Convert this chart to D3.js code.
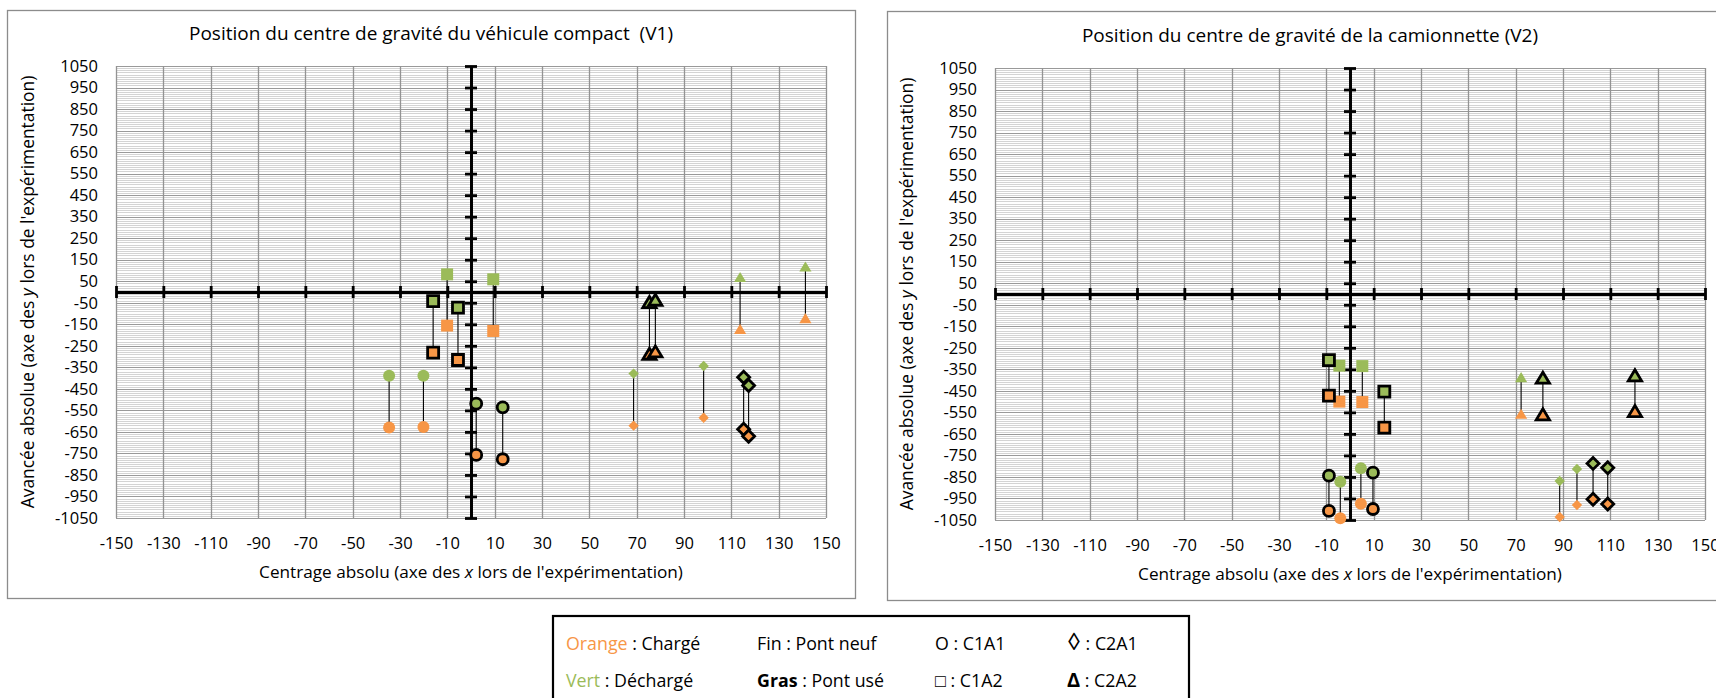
<!DOCTYPE html>
<html>
<head>
<meta charset="utf-8">
<script src="https://cdnjs.cloudflare.com/ajax/libs/d3/7.8.5/d3.min.js"></script>
<style>
  body { margin: 0; background: #fff; }
  svg { display: block; font-family: "Open Sans", sans-serif; }
</style>
</head>
<body>
<div id="chart"></div>
<script>
// ticks
var xTicks = [-150, -130, -110, -90, -70, -50, -30, -10, 10, 30, 50, 70, 90, 110, 130, 150];
var yTicks = [1050, 950, 850, 750, 650, 550, 450, 350, 250, 150, 50, -50, -150, -250, -350, -450, -550, -650, -750, -850, -950, -1050];

// each point: [x, y déchargé (vert), y chargé (orange)]
// V1 : véhicule compact
var v1C1A1Fin  = [[-34.6, -389, -630], [-20.1, -389, -627]];
var v1C1A1Gras = [[2.2, -519, -757], [13.4, -536, -777]];
var v1C1A2Fin  = [[-10.1, 82, -156], [9.4, 59, -181]];
var v1C1A2Gras = [[-16, -42, -282], [-5.5, -73, -316]];
var v1C2A1Fin  = [[68.7, -379, -621], [98.3, -344, -584]];
var v1C2A1Gras = [[115.2, -396, -638], [117.3, -434, -670]];
var v1C2A2Fin  = [[113.7, 64, -177], [141.3, 113, -127]];
var v1C2A2Gras = [[75.4, -53, -293], [77.9, -42, -282]];

// V2 : camionnette
var v2C1A1Fin  = [[-4.1, -872, -1042], [4.6, -810, -974]];
var v2C1A1Gras = [[-8.9, -844, -1008], [9.7, -830, -999]];
var v2C1A2Fin  = [[-4.5, -333, -500], [5.2, -335, -502]];
var v2C1A2Gras = [[-8.9, -307, -472], [14.5, -454, -621]];
var v2C2A1Fin  = [[88.6, -869, -1036], [95.9, -813, -980]];
var v2C2A1Gras = [[102.7, -787, -954], [108.9, -807, -976]];
var v2C2A2Fin  = [[72.3, -392, -562]];
var v2C2A2Gras = [[81.5, -395, -565], [120.4, -384, -550]];

var ORANGE = '#F79646';
var GREEN = '#9BBB59';

var svg = d3.select('#chart').append('svg')
    .attr('width', 1716)
    .attr('height', 698);

svg.append('rect').attr('width', 1716).attr('height', 698).attr('fill', '#fff');

function shapePath(shape, r) {
    var p = d3.path();
    if (shape === 'circle') {
        p.arc(0, 0, r, 0, 2 * Math.PI);
    } else if (shape === 'square') {
        p.rect(-r, -r, 2 * r, 2 * r);
    } else if (shape === 'diamond') {
        p.moveTo(0, -r); p.lineTo(r, 0); p.lineTo(0, r); p.lineTo(-r, 0); p.closePath();
    } else {
        var h = r * 1.75;
        p.moveTo(0, -h * 0.62); p.lineTo(r * 1.05, h * 0.38); p.lineTo(-r * 1.05, h * 0.38); p.closePath();
    }
    return p.toString();
}

var lightSize = { circle: 6, square: 6, diamond: 5.2, triangle: 5.8 };
var boldSize = { circle: 5.5, square: 5.5, diamond: 6, triangle: 6.3 };

function makePanel(cfg) {
    svg.append('rect')
        .attr('x', cfg.frame[0] + 0.5).attr('y', cfg.frame[1] + 0.5)
        .attr('width', cfg.frame[2]).attr('height', cfg.frame[3])
        .attr('fill', '#fff').attr('stroke', '#8c8c8c').attr('stroke-width', 1.3);

    var g = svg.append('g').attr('transform', 'translate(' + cfg.left + ',' + cfg.top + ')');
    var width = 710, height = 452;

    var x = d3.scaleLinear().domain([-150, 150]).range([0, width]);
    var y = d3.scaleLinear().domain([-1050, 1050]).range([height, 0]);

    // minor horizontal grid
    g.append('g').selectAll('line')
        .data(d3.range(-1050, 1051, 10).filter(function(v) { return (v + 1050) % 100 !== 0; }))
        .enter().append('line')
        .attr('x1', 0).attr('x2', width)
        .attr('y1', function(d) { return Math.round(y(d)) + 0.5; })
        .attr('y2', function(d) { return Math.round(y(d)) + 0.5; })
        .attr('stroke', '#d4d4d4').attr('stroke-width', 1);

    // major grid
    g.append('g').selectAll('line')
        .data(yTicks)
        .enter().append('line')
        .attr('x1', 0).attr('x2', width)
        .attr('y1', function(d) { return Math.round(y(d)) + 0.5; })
        .attr('y2', function(d) { return Math.round(y(d)) + 0.5; })
        .attr('stroke', '#999').attr('stroke-width', 1.2);

    g.append('g').selectAll('line')
        .data(xTicks)
        .enter().append('line')
        .attr('y1', 0).attr('y2', height)
        .attr('x1', function(d) { return Math.round(x(d)) + 0.5; })
        .attr('x2', function(d) { return Math.round(x(d)) + 0.5; })
        .attr('stroke', '#939393').attr('stroke-width', 1.3);

    // tick labels (plain hyphen as minus sign)
    var fmt = function(d) { return String(d); };
    var xLab = g.append('g')
        .attr('transform', 'translate(0,' + height + ')')
        .call(d3.axisBottom(x).tickValues(xTicks).tickSize(0).tickPadding(19).tickFormat(fmt));
    xLab.select('.domain').remove();
    xLab.selectAll('text').attr('font-size', 16.5).attr('font-family', 'Open Sans').attr('fill', '#000');

    var yLab = g.append('g')
        .call(d3.axisLeft(y).tickValues(yTicks).tickSize(0).tickPadding(18).tickFormat(fmt));
    yLab.select('.domain').remove();
    yLab.selectAll('text').attr('font-size', 16.5).attr('font-family', 'Open Sans').attr('fill', '#000');

    // black central axes with crossing ticks
    var axW = 2.8;
    [d3.axisBottom, d3.axisTop].forEach(function(ax) {
        var a = g.append('g').attr('transform', 'translate(0,' + y(0) + ')')
            .call(ax(x).tickValues(xTicks).tickSize(6).tickSizeOuter(0).tickFormat(''));
        a.selectAll('line, path').attr('stroke', '#000').attr('stroke-width', axW);
    });
    [d3.axisLeft, d3.axisRight].forEach(function(ax) {
        var a = g.append('g').attr('transform', 'translate(' + x(0) + ',0)')
            .call(ax(y).tickValues(yTicks).tickSize(6).tickSizeOuter(0).tickFormat(''));
        a.selectAll('line, path').attr('stroke', '#000').attr('stroke-width', axW);
    });

    // connectors then markers
    var all = [];
    cfg.series.forEach(function(s) {
        s.data.forEach(function(d) { all.push({ shape: s.shape, bold: s.bold, d: d }); });
    });

    g.append('g').selectAll('line')
        .data(all).enter().append('line')
        .attr('x1', function(p) { return x(p.d[0]); })
        .attr('x2', function(p) { return x(p.d[0]); })
        .attr('y1', function(p) { return y(p.d[1]); })
        .attr('y2', function(p) { return y(p.d[2]); })
        .attr('stroke', '#000').attr('stroke-width', 1.1);

    var marks = [];
    all.forEach(function(p) {
        marks.push({ shape: p.shape, bold: p.bold, x: p.d[0], y: p.d[1], color: GREEN });
        marks.push({ shape: p.shape, bold: p.bold, x: p.d[0], y: p.d[2], color: ORANGE });
    });

    g.append('g').selectAll('path')
        .data(marks).enter().append('path')
        .attr('transform', function(m) { return 'translate(' + x(m.x) + ',' + y(m.y) + ')'; })
        .attr('d', function(m) { return shapePath(m.shape, m.bold ? boldSize[m.shape] : lightSize[m.shape]); })
        .attr('fill', function(m) { return m.color; })
        .attr('stroke', function(m) { return m.bold ? '#000' : 'none'; })
        .attr('stroke-width', 2.8)
        .attr('stroke-linejoin', 'miter');

    // titles
    svg.append('text')
        .attr('x', cfg.titleX).attr('y', cfg.top - 26)
        .attr('text-anchor', 'middle').attr('font-size', 19)
        .text(cfg.title);

    var xt = svg.append('text')
        .attr('x', cfg.left + width / 2).attr('y', cfg.top + height + 60)
        .attr('text-anchor', 'middle').attr('font-size', 17.2);
    xt.append('tspan').text('Centrage absolu (axe des ');
    xt.append('tspan').attr('font-style', 'italic').text('x');
    xt.append('tspan').text(" lors de l'expérimentation)");

    var yt = svg.append('text')
        .attr('transform', 'translate(' + (cfg.left - 82) + ',' + (cfg.top + height / 2) + ') rotate(-90)')
        .attr('text-anchor', 'middle').attr('font-size', 17.4);
    yt.append('tspan').text('Avancée absolue (axe des ');
    yt.append('tspan').attr('font-style', 'italic').text('y');
    yt.append('tspan').text(" lors de l'expérimentation)");
}

function seriesList(c1a1f, c1a1g, c1a2f, c1a2g, c2a1f, c2a1g, c2a2f, c2a2g) {
    return [
        { shape: 'circle', bold: false, data: c1a1f },
        { shape: 'circle', bold: true, data: c1a1g },
        { shape: 'square', bold: false, data: c1a2f },
        { shape: 'square', bold: true, data: c1a2g },
        { shape: 'diamond', bold: false, data: c2a1f },
        { shape: 'diamond', bold: true, data: c2a1g },
        { shape: 'triangle', bold: false, data: c2a2f },
        { shape: 'triangle', bold: true, data: c2a2g }
    ];
}

makePanel({
    frame: [7, 10, 848, 588],
    left: 116, top: 66, titleX: 431,
    title: 'Position du centre de gravité du véhicule compact\u00a0 (V1)',
    series: seriesList(v1C1A1Fin, v1C1A1Gras, v1C1A2Fin, v1C1A2Gras, v1C2A1Fin, v1C2A1Gras, v1C2A2Fin, v1C2A2Gras)
});

makePanel({
    frame: [887, 11, 848, 589],
    left: 995, top: 68, titleX: 1310,
    title: 'Position du centre de gravité de la camionnette (V2)',
    series: seriesList(v2C1A1Fin, v2C1A1Gras, v2C1A2Fin, v2C1A2Gras, v2C2A1Fin, v2C2A1Gras, v2C2A2Fin, v2C2A2Gras)
});

// legend
var leg = svg.append('g');
leg.append('rect')
    .attr('x', 553).attr('y', 616).attr('width', 636).attr('height', 100)
    .attr('fill', '#fff').attr('stroke', '#000').attr('stroke-width', 2.2);

var legRows = [650, 687];
var legCols = [566, 757, 935, 1067];
function legText(col, row, parts) {
    var t = leg.append('text').attr('x', legCols[col]).attr('y', legRows[row]).attr('font-size', 17.8);
    parts.forEach(function(p) {
        var s = t.append('tspan').text(p[0]);
        if (p[1]) s.attr('fill', p[1]);
        if (p[2]) s.attr('font-weight', 'bold');
        if (p[3]) s.attr('font-size', p[3]);
    });
}
legText(0, 0, [['Orange', ORANGE], [' : Chargé']]);
legText(0, 1, [['Vert', GREEN], [' : Déchargé']]);
legText(1, 0, [['Fin : Pont neuf']]);
legText(1, 1, [['Gras', null, true], [' : Pont usé']]);
legText(2, 0, [['O'], [' : C1A1']]);
legText(2, 1, [['\u25a1', null, false, 18], [' : C1A2']]);
legText(3, 0, [['\u25ca', null, false, 24], [' : C2A1']]);
legText(3, 1, [['\u0394', null, true, 20], [' : C2A2']]);
</script>
</body>
</html>
